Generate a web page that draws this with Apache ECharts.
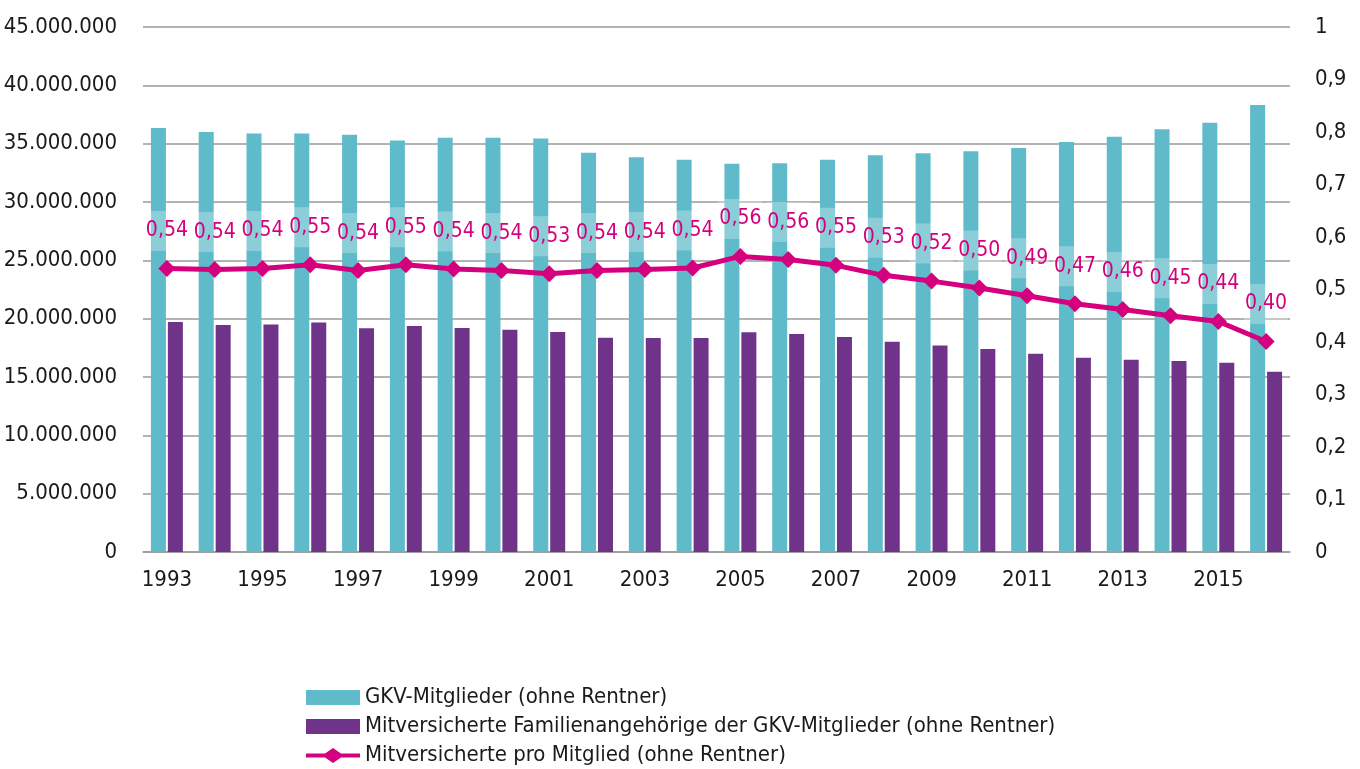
<!DOCTYPE html>
<html>
<head>
<meta charset="utf-8">
<script src="https://cdn.jsdelivr.net/npm/echarts@6/dist/echarts.min.js"></script>
<style>
  html, body { margin: 0; padding: 0; background: #fff; }
  #main { width: 1360px; height: 769px; }
</style>
</head>
<body>
<div id="main"></div>
<script>
// Jahre
var years = ['1993', '1994', '1995', '1996', '1997', '1998', '1999', '2000', '2001', '2002', '2003', '2004',
  '2005', '2006', '2007', '2008', '2009', '2010', '2011', '2012', '2013', '2014', '2015', '2016'];

// GKV-Mitglieder (ohne Rentner)
var mitglieder = [36340000, 35990000, 35880000, 35880000, 35770000, 35280000, 35510000, 35510000, 35450000, 34230000, 33830000, 33630000,
  33280000, 33330000, 33630000, 34000000, 34170000, 34340000, 34620000, 35140000, 35600000, 36230000, 36800000, 38320000];

// Mitversicherte Familienangehörige
var mitversicherte = [19720000, 19460000, 19490000, 19680000, 19170000, 19370000, 19200000, 19060000, 18860000, 18370000, 18340000, 18340000,
  18830000, 18690000, 18430000, 18030000, 17710000, 17400000, 17000000, 16660000, 16480000, 16370000, 16230000, 15450000];

// Mitversicherte pro Mitglied
var proMitglied = [0.540, 0.538, 0.540, 0.547, 0.536, 0.547, 0.539, 0.536, 0.530, 0.536, 0.538, 0.541,
  0.563, 0.557, 0.546, 0.527, 0.516, 0.503, 0.488, 0.473, 0.462, 0.450, 0.439, 0.401];

var fontFam = '"Liberation Sans Narrow", "DejaVu Sans Condensed", sans-serif';

// Linie mit Raute fuer die Legende
var lineIcon = 'path://M0,5.5L19,5.5L27,0L35,5.5L54,5.5L54,9.5L35,9.5L27,15L19,9.5L0,9.5Z';

function punkte(v) {
  return String(Math.round(v)).replace(/\B(?=(\d{3})+(?!\d))/g, '.');
}

var myChart = echarts.init(document.getElementById('main'));

var option = {
  animation: false,
  textStyle: { fontFamily: fontFam },
  grid: { left: 143, right: 70, top: 27, bottom: 217, outerBoundsMode: 'none' },
  legend: {
    orient: 'vertical',
    left: 306,
    top: 685,
    padding: 0,
    itemWidth: 54,
    itemHeight: 15,
    itemGap: 4,
    itemTextGap: 5,
    textStyle: { fontFamily: fontFam, fontSize: 22, color: '#1a1a1a', lineHeight: 25 },
    data: [
      { name: 'GKV-Mitglieder (ohne Rentner)', icon: 'rect' },
      { name: 'Mitversicherte Familienangehörige der GKV-Mitglieder (ohne Rentner)', icon: 'rect' },
      { name: 'Mitversicherte pro Mitglied (ohne Rentner)', icon: lineIcon,
        itemStyle: { color: '#d5007d', borderWidth: 0 } }
    ]
  },
  xAxis: {
    type: 'category',
    data: years,
    axisLine: { lineStyle: { color: '#999', width: 1.5 } },
    axisTick: { interval: 0, length: 8, lineStyle: { color: '#999', width: 1.5 } },
    axisLabel: { interval: 1, fontSize: 22, color: '#1a1a1a', margin: 17, fontFamily: fontFam }
  },
  yAxis: [
    {
      type: 'value',
      min: 0,
      max: 45000000,
      interval: 5000000,
      axisLine: { show: false },
      axisTick: { show: false },
      splitLine: { lineStyle: { color: '#9a9a9a', width: 1.5 } },
      axisLabel: { fontSize: 22, color: '#1a1a1a', margin: 26, fontFamily: fontFam, formatter: punkte }
    },
    {
      type: 'value',
      min: 0,
      max: 1,
      interval: 0.1,
      axisLine: { show: false },
      axisTick: { show: false },
      splitLine: { show: false },
      axisLabel: {
        fontSize: 22, color: '#1a1a1a', margin: 25, fontFamily: fontFam,
        formatter: function (v) { return String(+v.toFixed(1)).replace('.', ','); }
      }
    }
  ],
  series: [
    {
      name: 'GKV-Mitglieder (ohne Rentner)',
      type: 'bar',
      data: mitglieder,
      barWidth: 15,
      barGap: '13%',
      itemStyle: { color: '#5fbbca' }
    },
    {
      name: 'Mitversicherte Familienangehörige der GKV-Mitglieder (ohne Rentner)',
      type: 'bar',
      data: mitversicherte,
      barWidth: 15,
      barGap: '13%',
      itemStyle: { color: '#6f3489' }
    },
    {
      name: 'Mitversicherte pro Mitglied (ohne Rentner)',
      type: 'line',
      yAxisIndex: 1,
      data: proMitglied,
      symbol: 'diamond',
      symbolSize: 17,
      lineStyle: { color: '#d5007d', width: 5 },
      itemStyle: { color: '#d5007d' },
      label: {
        show: true,
        position: 'top',
        distance: 9,
        fontSize: 21,
        lineHeight: 22,
        color: '#d5007d',
        fontFamily: fontFam,
        backgroundColor: 'rgba(255,255,255,0.28)',
        padding: [9, 1],
        formatter: function (p) { return p.value.toFixed(2).replace('.', ','); }
      },
      z: 5
    }
  ]
};

myChart.setOption(option);
</script>
</body>
</html>
